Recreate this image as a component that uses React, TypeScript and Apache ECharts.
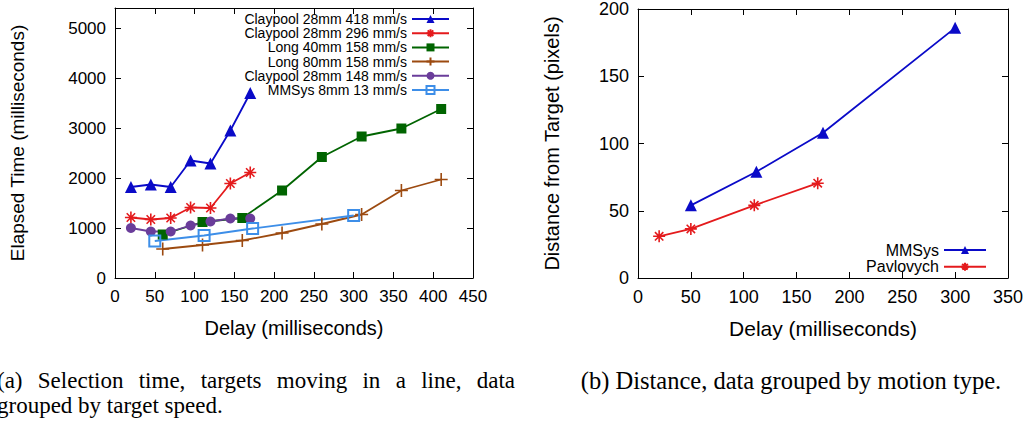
import React, { useEffect, useRef } from "react";
import * as echarts from "echarts";

// ---------- Data (left chart: Elapsed time) ----------
const claypoolX = [20, 45, 70, 95, 120, 145, 170];
const claypool418Y = [1820, 1870, 1820, 2350, 2290, 2950, 3700];
const claypool296Y = [1210, 1170, 1200, 1410, 1400, 1890, 2110];
const claypool148Y = [1000, 930, 930, 1050, 1130, 1190, 1190];
const longX = [60, 110, 160, 210, 260, 310, 360, 410];
const long40Y = [870, 1120, 1200, 1750, 2420, 2830, 2990, 3380];
const long80Y = [580, 660, 750, 900, 1080, 1270, 1750, 1970];
const mmsys8X = [50, 112, 173, 300];
const mmsys8Y = [740, 850, 990, 1250];

// ---------- Data (right chart: Distance) ----------
const mmsysX = [50, 112, 175, 300];
const mmsysY = [54, 79, 108, 186];
const pavX = [20, 50, 110, 170];
const pavY = [31, 36.5, 54, 70.5];

const leftLegendNames = [
  "Claypool 28mm 418 mm/s",
  "Claypool 28mm 296 mm/s",
  "Long 40mm 158 mm/s",
  "Long 80mm 158 mm/s",
  "Claypool 28mm 148 mm/s",
  "MMSys 8mm 13 mm/s",
];
const rightLegendNames = ["MMSys", "Pavlovych"];

const captionA1Words = ["(a)", "Selection", "time,", "targets", "moving", "in", "a", "line,", "data"];
const captionA2 = "grouped by target speed.";
const captionB = "(b) Distance, data grouped by motion type.";

const SANS = "Liberation Sans, Arial, Helvetica, sans-serif";
const SERIF = "Liberation Serif, Times New Roman, serif";
const CAP_FONT = `23px ${SERIF}`;
const CAP_FONT_B = `24.5px ${SERIF}`;

const STAR = "path://M6,0L6,12M0,6L12,6M1.8,1.8L10.2,10.2M10.2,1.8L1.8,10.2";
const PLUS = "path://M6,0L6,12M0,6L12,6";
const OSQUARE = "path://M0,0L12,0L12,12L0,12Z";

const zip = (xs: number[], ys: number[]) => xs.map((x, i) => [x, ys[i]]);

function measure(text: string, font: string): number {
  const c = document.createElement("canvas").getContext("2d");
  if (!c) return text.length * 10;
  c.font = font;
  return c.measureText(text).width;
}

export default function App() {
  const ref = useRef<HTMLDivElement>(null);
  useEffect(() => {
    if (!ref.current) return;
    const chart = echarts.init(ref.current, undefined, { renderer: "svg" });

    const tick = { inside: true, length: 6, lineStyle: { color: "#000", width: 1 } };
    const line = { show: true, onZero: false, lineStyle: { color: "#000", width: 1 } };
    const fmt = (v: number) => String(v);
    const lblL = { color: "#000", fontSize: 17, fontFamily: SANS, formatter: fmt };
    const lblR = { color: "#000", fontSize: 18, fontFamily: SANS, formatter: fmt };

    const mkX = (grid: number, max: number, lbl: any, top: boolean) => ({
      type: "value",
      gridIndex: grid,
      position: top ? "top" : "bottom",
      min: 0,
      max,
      interval: 50,
      axisLine: line,
      axisTick: tick,
      axisLabel: top ? { show: false } : { ...lbl, margin: 10 },
      splitLine: { show: false },
    });
    const mkY = (grid: number, max: number, interval: number, lbl: any, right: boolean, showMax: boolean) => ({
      type: "value",
      gridIndex: grid,
      position: right ? "right" : "left",
      min: 0,
      max,
      interval,
      axisLine: line,
      axisTick: tick,
      axisLabel: right ? { show: false } : { ...lbl, margin: 9, showMaxLabel: showMax },
      splitLine: { show: false },
    });

    const xAxis: any[] = [
      {
        ...mkX(0, 450, lblL, false),
        name: "Delay (milliseconds)",
        nameLocation: "middle",
        nameGap: 40,
        nameTextStyle: { color: "#000", fontSize: 20, fontFamily: SANS },
      },
      mkX(0, 450, lblL, true),
      {
        ...mkX(1, 350, lblR, false),
        name: "Delay (milliseconds)",
        nameLocation: "middle",
        nameGap: 40,
        nameTextStyle: { color: "#000", fontSize: 21, fontFamily: SANS },
      },
      mkX(1, 350, lblR, true),
    ];
    const yAxis: any[] = [
      {
        ...mkY(0, 5400, 1000, lblL, false, false),
        name: "Elapsed Time (milliseconds)",
        nameLocation: "middle",
        nameGap: 88,
        nameTextStyle: { color: "#000", fontSize: 19, fontFamily: SANS },
      },
      mkY(0, 5400, 1000, lblL, true, false),
      {
        ...mkY(1, 200, 50, lblR, false, true),
        name: "Distance from Target (pixels)",
        nameLocation: "middle",
        nameGap: 76,
        nameTextStyle: { color: "#000", fontSize: 20, fontFamily: SANS },
      },
      mkY(1, 200, 50, lblR, true, true),
    ];

    const mkSeries = (
      name: string,
      data: number[][],
      color: string,
      symbol: string,
      size: number,
      xi: number,
      yi: number,
      stroke: boolean,
      hollow = false
    ) => ({
      type: "line",
      name,
      data,
      xAxisIndex: xi,
      yAxisIndex: yi,
      color,
      symbol,
      symbolSize: size,
      showAllSymbol: true,
      lineStyle: { color, width: 1.8 },
      itemStyle: stroke
        ? { color: hollow ? "rgba(255,255,255,0)" : color, borderColor: color, borderWidth: hollow ? 2 : 1.6 }
        : { color },
      emphasis: { disabled: true },
      z: 3,
    });

    const series: any[] = [
      mkSeries(leftLegendNames[0], zip(claypoolX, claypool418Y), "#0a0ac8", "triangle", 12, 0, 0, false),
      mkSeries(leftLegendNames[1], zip(claypoolX, claypool296Y), "#e41a1c", STAR, 12, 0, 0, true),
      mkSeries(leftLegendNames[2], zip(longX, long40Y), "#006400", "rect", 10, 0, 0, false),
      mkSeries(leftLegendNames[3], zip(longX, long80Y), "#9c4a10", PLUS, 13, 0, 0, true),
      mkSeries(leftLegendNames[4], zip(claypoolX, claypool148Y), "#6a3d9a", "circle", 10, 0, 0, false),
      mkSeries(leftLegendNames[5], zip(mmsys8X, mmsys8Y), "#3d8ee8", OSQUARE, 11, 0, 0, true, true),
      mkSeries(rightLegendNames[0], zip(mmsysX, mmsysY), "#0a0ac8", "triangle", 12, 2, 2, false),
      mkSeries(rightLegendNames[1], zip(pavX, pavY), "#e41a1c", STAR, 12, 2, 2, true),
    ];

    const legendBase = {
      orient: "horizontal",
      align: "right",
      padding: 0,
      itemWidth: 37,
      itemHeight: 10,
      selectedMode: false,
    };
    const legends: any[] = [
      ...leftLegendNames.map((n, i) => ({
        ...legendBase,
        data: [n],
        right: 1035 - 450,
        top: 12 + i * 14.2,
        textStyle: { color: "#000", fontSize: 14, fontFamily: SANS },
      })),
      ...rightLegendNames.map((n, i) => ({
        ...legendBase,
        data: [n],
        right: 1035 - 987,
        top: 242 + i * 16.7,
        itemWidth: 42,
        textStyle: { color: "#000", fontSize: 16, fontFamily: SANS },
      })),
    ];

    // justified first caption line between x = -3 and x = 515
    const widths = captionA1Words.map((w) => measure(w, CAP_FONT));
    const total = widths.reduce((a, b) => a + b, 0);
    const x0 = -3;
    const x1 = 515;
    const gap = (x1 - x0 - total) / (captionA1Words.length - 1);
    const a1X: number[] = [];
    let cx = x0;
    widths.forEach((w) => {
      a1X.push(cx);
      cx += w + gap;
    });

    const graphic: any[] = [
      ...captionA1Words.map((w, i) => ({
        type: "text",
        x: a1X[i],
        y: 380,
        style: { text: w, fill: "#000", font: CAP_FONT, verticalAlign: "middle", align: "left" },
      })),
      {
        type: "text",
        x: -3,
        y: 405,
        style: { text: captionA2, fill: "#000", font: CAP_FONT, verticalAlign: "middle", align: "left" },
      },
      {
        type: "text",
        x: 791,
        y: 380,
        style: { text: captionB, fill: "#000", font: CAP_FONT_B, verticalAlign: "middle", align: "center" },
      },
    ];

    chart.setOption({
      animation: false,
      backgroundColor: "#fff",
      grid: [
        { left: 115, right: 562, top: 8, bottom: 145, containLabel: false },
        { left: 638, right: 27, top: 8, bottom: 145, containLabel: false },
      ],
      xAxis,
      yAxis,
      legend: legends,
      series,
      graphic,
    });
    return () => chart.dispose();
  }, []);

  return (
    <div
      ref={ref}
      style={{ position: "absolute", left: 0, top: 0, width: 1035, height: 423, background: "#fff" }}
    />
  );
}
